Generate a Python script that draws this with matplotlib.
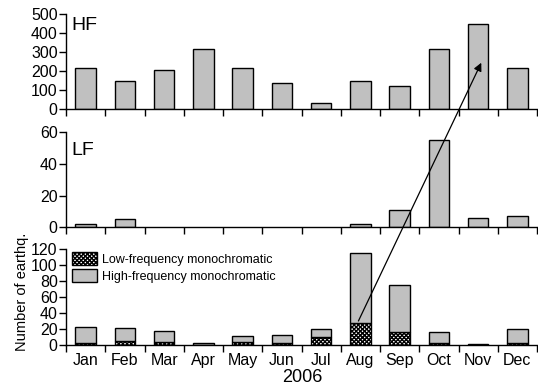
import matplotlib
matplotlib.use("Agg")
import matplotlib.pyplot as plt
from matplotlib.patches import ConnectionPatch
import numpy as np

plt.rcParams['font.family'] = ['Liberation Sans', 'DejaVu Sans']
plt.rcParams['hatch.linewidth'] = 1.0

months = ["Jan", "Feb", "Mar", "Apr", "May", "Jun", "Jul", "Aug", "Sep", "Oct", "Nov", "Dec"]
hf_counts = [220, 150, 205, 318, 220, 140, 35, 150, 125, 315, 450, 220]
lf_counts = [2, 5, 0, 0, 0, 0, 0, 2, 11, 55, 6, 7]
mono_total = [22, 21, 17, 2, 11, 12, 20, 115, 75, 16, 1, 20]
mono_low = [2, 5, 4, 0, 4, 3, 10, 28, 16, 3, 0, 3]
mono_high = [t - l for t, l in zip(mono_total, mono_low)]

fig = plt.figure(figsize=(5.38, 3.87), dpi=100)
W = 538.0; H = 387.0
x0 = 66 / W; wd = 471 / W

def mkax(top_px, bot_px):
    return fig.add_axes([x0, (H - bot_px) / H, wd, (bot_px - top_px) / H])

ax1 = mkax(14.3, 109.3)
ax2 = mkax(132.3, 227.3)
ax3 = mkax(249, 345)

x = np.arange(len(months))
bw = 0.52
gray = '#c0c0c0'

ax1.bar(x, hf_counts, bw, color=gray, edgecolor='black', linewidth=1.0)
lf_idx = [i for i, v in enumerate(lf_counts) if v > 0]
ax2.bar([x[i] for i in lf_idx], [lf_counts[i] for i in lf_idx], bw,
        color=gray, edgecolor='black', linewidth=1.0)
ax3.bar(x, mono_low, bw, color='white', edgecolor='black', hatch='xxxxxxxx', linewidth=1.0,
        label='Low-frequency monochromatic')
ax3.bar(x, mono_high, bw, bottom=mono_low, color=gray, edgecolor='black', linewidth=1.0,
        label='High-frequency monochromatic')

ax1.set_ylim(0, 500); ax1.set_yticks([0, 100, 200, 300, 400, 500])
ax2.set_ylim(0, 60); ax2.set_yticks([0, 20, 40, 60])
ax3.set_ylim(0, 120); ax3.set_yticks([0, 20, 40, 60, 80, 100, 120])

for ax in (ax1, ax2, ax3):
    ax.set_xlim(-0.5, 11.5)
    ax.spines['top'].set_visible(False)
    ax.spines['right'].set_visible(False)
    ax.spines['left'].set_linewidth(1.0)
    ax.spines['bottom'].set_linewidth(1.0)
    ax.set_xticks(np.arange(-0.5, 12, 1))
    ax.set_xticklabels([])
    ax.set_xticks(x, minor=True)
    ax.tick_params(axis='x', which='major', direction='out', length=5, width=1.0)
    ax.tick_params(axis='x', which='minor', length=0)
    ax.tick_params(axis='y', direction='out', length=5, width=1.0, labelsize=11.5, pad=1)

ax3.set_xticklabels(months, minor=True, fontsize=11.5)
ax3.tick_params(axis='x', which='minor', pad=6)

ax1.text(0.012, 0.97, 'HF', transform=ax1.transAxes, fontsize=14, va='top', ha='left')
ax2.text(0.012, 0.90, 'LF', transform=ax2.transAxes, fontsize=14, va='top', ha='left')

fig.text(302 / W, (H - 378) / H, '2006', fontsize=13, ha='center', va='center')
fig.text(22 / W, (H - 292) / H, 'Number of earthq.', fontsize=10.5, rotation=90,
         ha='center', va='center')

ax3.legend(loc='upper left', frameon=False, fontsize=9, handlelength=2.0,
           handleheight=1.2, borderaxespad=0.1, labelspacing=0.25,
           bbox_to_anchor=(0.0, 1.03), handletextpad=0.4)

con = ConnectionPatch(xyA=(6.95, 30), coordsA=ax3.transData,
                      xyB=(10.08, 245), coordsB=ax1.transData,
                      arrowstyle='-|>', mutation_scale=12, lw=0.9, color='black')
fig.add_artist(con)

fig.savefig('out.png', dpi=100)
